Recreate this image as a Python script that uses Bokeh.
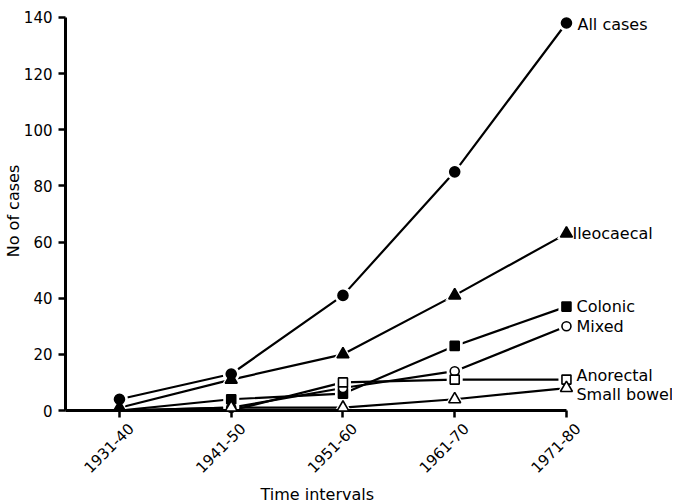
import math
from bokeh.plotting import figure
from bokeh.models import ColumnDataSource, FixedTicker, LabelSet, Range1d, LinearAxis, Title
from bokeh.core.properties import value
from bokeh.embed import file_html
from bokeh.resources import INLINE

# ---- data ----
intervals = ["1931-40", "1941-50", "1951-60", "1961-70", "1971-80"]
all_cases = [4, 13, 41, 85, 138]
ileocaecal = [1, 11, 20, 41, 63]
colonic = [0, 4, 6, 23, 37]
mixed = [0, 1, 8, 14, 30]
anorectal = [0, 0, 10, 11, 11]
small_bowel = [0, 1, 1, 4, 8]
series_names = ["All cases", "Ileocaecal", "Colonic", "Mixed", "Anorectal", "Small bowel"]
series_values = [all_cases, ileocaecal, colonic, mixed, anorectal, small_bowel]
y_ticks = [0, 20, 40, 60, 80, 100, 120, 140]

# ---- styles / layout ----
FONT = "DejaVu Sans"
marker_styles = {
    "All cases": dict(marker="circle", size=10, fill="black"),
    "Ileocaecal": dict(marker="triangle", size=12, fill="black"),
    "Colonic": dict(marker="square", size=9, fill="black"),
    "Mixed": dict(marker="circle", size=9, fill="white"),
    "Anorectal": dict(marker="square", size=9, fill="white"),
    "Small bowel": dict(marker="triangle", size=12, fill="white"),
}
label_x_off = [11, 6, 10, 10, 10, 10]
label_y_off = [-1, 0, 0, 0, 4, -6]
X_START, X_END = -0.483, 4.949
LABEL_SHIFT = 0.1

idx = list(range(len(intervals)))

p = figure(
    output_backend="svg", toolbar_location=None,
    frame_width=607, frame_height=399,
    x_range=Range1d(X_START, X_END), y_range=Range1d(0, 142.1),
    min_border_left=58, min_border_right=0, min_border_top=11, min_border_bottom=0,
)
p.outline_line_color = None
p.grid.visible = False
p.background_fill_color = "white"
p.extra_x_ranges = {"lab": Range1d(X_START - LABEL_SHIFT, X_END - LABEL_SHIFT)}

# lines
for name, vals in zip(series_names, series_values):
    p.line(idx, vals, line_color="black", line_width=2.2)

# halos and markers
for name, vals in zip(series_names, series_values):
    st = marker_styles[name]
    xs = [i for i, v in zip(idx, vals) if v > 0]
    ys = [v for v in vals if v > 0]
    p.scatter(xs, ys, marker=st["marker"], size=st["size"] + 7,
              fill_color="white", line_color=None)
for name, vals in zip(series_names, series_values):
    st = marker_styles[name]
    xs = [i for i, v in zip(idx, vals) if v > 0]
    ys = [v for v in vals if v > 0]
    r = p.scatter(xs, ys, marker=st["marker"], size=st["size"],
                  fill_color=st["fill"], line_color="black", line_width=1.6)
    r.level = "overlay"

# series labels
lab_src = ColumnDataSource(dict(
    x=[idx[-1]] * len(series_names),
    y=[v[-1] for v in series_values],
    text=series_names,
    xo=label_x_off,
    yo=label_y_off,
))
labels = LabelSet(x="x", y="y", text="text", source=lab_src,
                  x_offset="xo", y_offset="yo",
                  text_font=value(FONT), text_font_size="16px",
                  text_baseline="middle", text_align="left", text_color="black")
p.add_layout(labels)

# axes
def style_axis(ax):
    ax.axis_line_width = 3
    ax.axis_line_color = "black"
    ax.major_tick_line_width = 2.5
    ax.major_tick_line_color = "black"
    ax.minor_tick_line_color = None
    ax.major_tick_in = 0
    ax.major_tick_out = 7
    ax.major_label_text_font = FONT
    ax.major_label_text_font_size = "15px"
    ax.major_label_text_color = "black"
    ax.axis_label_text_font = FONT
    ax.axis_label_text_font_size = "16px"
    ax.axis_label_text_font_style = "normal"
    ax.axis_label_text_color = "black"

xa = p.xaxis[0]
ya = p.yaxis[0]
style_axis(xa)
style_axis(ya)

xa.ticker = FixedTicker(ticks=idx)
xa.major_label_overrides = {i: "" for i in idx}
xa.major_label_standoff = 0
xa.bounds = (X_START, idx[-1])

lab_axis = LinearAxis(x_range_name="lab", ticker=FixedTicker(ticks=idx))
style_axis(lab_axis)
lab_axis.axis_line_color = None
lab_axis.major_tick_line_color = None
lab_axis.major_tick_out = 0
lab_axis.major_label_overrides = {i: lab for i, lab in zip(idx, intervals)}
lab_axis.major_label_orientation = math.pi / 4
lab_axis.major_label_standoff = 8
p.add_layout(lab_axis, "below")

p.add_layout(Title(text="Time intervals", align="left", offset=195,
                   text_font=FONT, text_font_size="16px",
                   text_font_style="normal", text_color="black", standoff=2), "below")

ya.ticker = FixedTicker(ticks=y_ticks)
ya.bounds = (y_ticks[0], y_ticks[-1])
ya.axis_label = "No of cases"
ya.major_label_standoff = 6
ya.axis_label_standoff = -2

open("out.html", "w").write(file_html(p, INLINE))
